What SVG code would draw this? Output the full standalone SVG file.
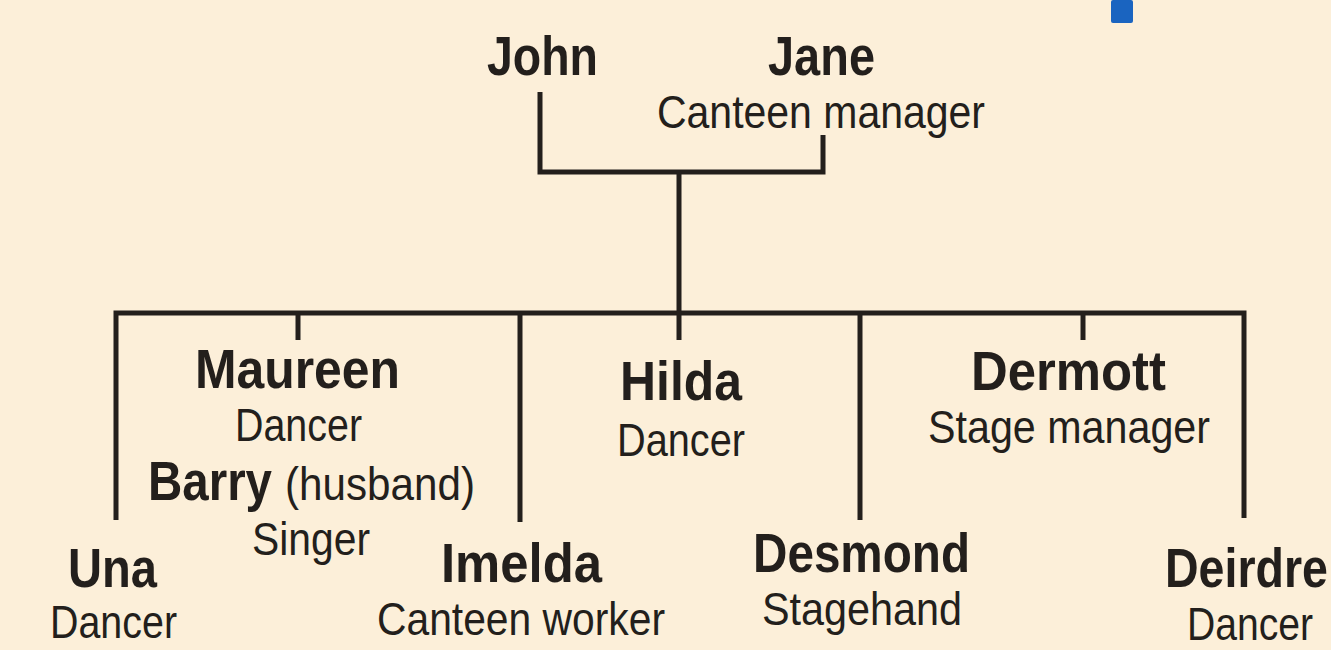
<svg xmlns="http://www.w3.org/2000/svg" width="1331" height="650" viewBox="0 0 1331 650">
<style>
.b{font-family:"Liberation Sans",Arial,sans-serif;font-weight:bold;font-size:56px;fill:#231f1c}
.r{font-family:"Liberation Sans",Arial,sans-serif;font-size:47px;fill:#231f1c}
.ln{stroke:#231f1c;stroke-width:5;fill:none;stroke-linecap:butt;stroke-linejoin:miter}
</style>
<rect width="1331" height="650" fill="#fcefd9"/>
<rect x="1111" y="0" width="22" height="23" rx="2" fill="#1a64c0"/>
<g id="connectors" class="ln">
<path d="M540 92 V172 H823 V135"/>
<path d="M679 172 V313"/>
<path d="M116 520 V313 H1244 V518"/>
<path d="M298 313 V340"/>
<path d="M520 313 V522"/>
<path d="M679 313 V340"/>
<path d="M860 313 V520"/>
<path d="M1083 313 V340"/>
</g>
<g id="john"><text class="b" x="487" y="75" textLength="111" lengthAdjust="spacingAndGlyphs">John</text></g>
<g id="jane"><text class="b" x="768" y="75" textLength="107" lengthAdjust="spacingAndGlyphs">Jane</text>
<text class="r" x="657" y="128" textLength="328" lengthAdjust="spacingAndGlyphs">Canteen manager</text></g>
<g id="maureen"><text class="b" x="195" y="388" textLength="205" lengthAdjust="spacingAndGlyphs">Maureen</text>
<text class="r" x="235" y="441" textLength="127" lengthAdjust="spacingAndGlyphs">Dancer</text>
<text class="b" x="148" y="500" textLength="124" lengthAdjust="spacingAndGlyphs">Barry</text>
<text class="r" x="285" y="500" textLength="190" lengthAdjust="spacingAndGlyphs">(husband)</text>
<text class="r" x="252" y="555" textLength="118" lengthAdjust="spacingAndGlyphs">Singer</text></g>
<g id="una"><text class="b" x="68" y="587" textLength="89" lengthAdjust="spacingAndGlyphs">Una</text>
<text class="r" x="50" y="638" textLength="127" lengthAdjust="spacingAndGlyphs">Dancer</text></g>
<g id="imelda"><text class="b" x="441" y="582" textLength="161" lengthAdjust="spacingAndGlyphs">Imelda</text>
<text class="r" x="377" y="635" textLength="288" lengthAdjust="spacingAndGlyphs">Canteen worker</text></g>
<g id="hilda"><text class="b" x="620" y="400" textLength="122" lengthAdjust="spacingAndGlyphs">Hilda</text>
<text class="r" x="617" y="456" textLength="128" lengthAdjust="spacingAndGlyphs">Dancer</text></g>
<g id="dermott"><text class="b" x="971" y="390" textLength="195" lengthAdjust="spacingAndGlyphs">Dermott</text>
<text class="r" x="928" y="443" textLength="282" lengthAdjust="spacingAndGlyphs">Stage manager</text></g>
<g id="desmond"><text class="b" x="753" y="572" textLength="217" lengthAdjust="spacingAndGlyphs">Desmond</text>
<text class="r" x="762" y="625" textLength="200" lengthAdjust="spacingAndGlyphs">Stagehand</text></g>
<g id="deirdre"><text class="b" x="1165" y="587" textLength="163" lengthAdjust="spacingAndGlyphs">Deirdre</text>
<text class="r" x="1187" y="640" textLength="126" lengthAdjust="spacingAndGlyphs">Dancer</text></g>
</svg>
